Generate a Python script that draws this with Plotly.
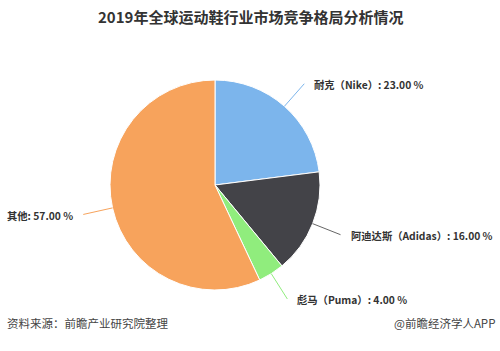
import math
import plotly.graph_objects as go

labels = ["耐克（Nike）", "阿迪达斯（Adidas）", "彪马（Puma）", "其他"]
values = [23.00, 16.00, 4.00, 57.00]
colors = ["#7cb5ec", "#434348", "#90ed7d", "#f7a35c"]
title = "2019年全球运动鞋行业市场竞争格局分析情况"
source = "资料来源：前瞻产业研究院整理"
brand = "@前瞻经济学人APP"

W, H = 500, 351
cx, cy, r = 215, 185, 105

fig = go.Figure(go.Pie(
    labels=labels, values=values, sort=False, direction="clockwise", rotation=0,
    marker=dict(colors=colors, line=dict(color="white", width=1)),
    textinfo="none", hoverinfo="label+percent", showlegend=False,
    domain=dict(x=[(cx - r) / W, (cx + r) / W], y=[(H - cy - r) / H, (H - cy + r) / H]),
))

def px(x, y):
    return x / W, 1 - y / H

total = sum(values)
cum = 0
for lab, v, c in zip(labels, values, colors):
    mid = (cum + v / 2) / total * 2 * math.pi
    cum += v
    sx, sy = math.sin(mid), -math.cos(mid)
    ex, ey = cx + r * sx, cy + r * sy
    lx, ly = cx + (r + 30) * sx, cy + (r + 30) * sy
    x0, y0 = px(ex, ey)
    x1, y1 = px(lx, ly)
    fig.add_shape(type="line", xref="paper", yref="paper", x0=x0, y0=y0, x1=x1, y1=y1,
                  line=dict(color=c if c != "#434348" else "#666666", width=1))
    right = sx >= 0
    tx, ty = px(lx + (8 if right else -8), ly + 1)
    fig.add_annotation(x=tx, y=ty, xref="paper", yref="paper", showarrow=False,
                       xanchor="left" if right else "right", yanchor="middle",
                       text=f"<b>{lab}: {v:.2f} %</b>",
                       font=dict(size=10.3, color="#333333", family="Noto Sans CJK SC"))

fig.add_annotation(x=0.5, y=1 - 17 / H, xref="paper", yref="paper", showarrow=False,
                   text=f"<b>{title}</b>", xanchor="center", yanchor="middle",
                   font=dict(size=15, color="#333333", family="Noto Sans CJK SC"))
fig.add_annotation(x=5 / W, y=1 - 323 / H, xref="paper", yref="paper", showarrow=False,
                   text=source, xanchor="left", yanchor="middle",
                   font=dict(size=11.5, color="#444444", family="Noto Sans CJK SC"))
fig.add_annotation(x=497 / W, y=1 - 323 / H, xref="paper", yref="paper", showarrow=False,
                   text=brand, xanchor="right", yanchor="middle",
                   font=dict(size=11.5, color="#444444", family="Noto Sans CJK SC"))

fig.update_layout(width=W, height=H, margin=dict(l=0, r=0, t=0, b=0),
                  paper_bgcolor="white", plot_bgcolor="white")
fig.write_html("out.html")
